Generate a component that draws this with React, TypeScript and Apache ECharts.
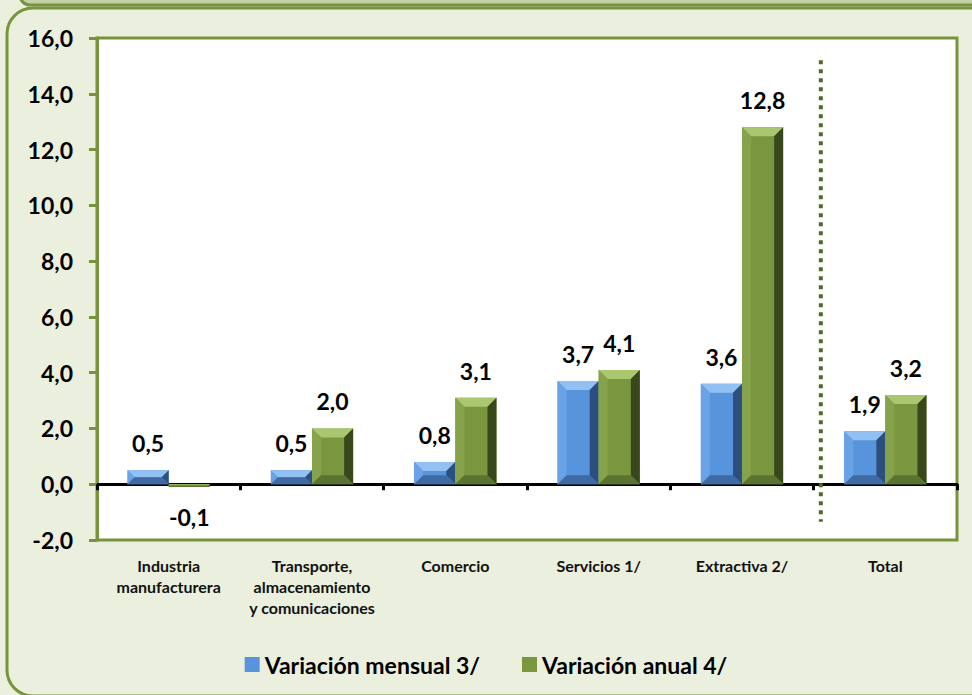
import React, { useEffect, useRef } from "react";
import * as echarts from "echarts";

const categories = [
  "Industria\nmanufacturera",
  "Transporte,\nalmacenamiento\ny comunicaciones",
  "Comercio",
  "Servicios 1/",
  "Extractiva 2/",
  "Total",
];
const mensual = [0.5, 0.5, 0.8, 3.7, 3.6, 1.9];
const anual = [-0.1, 2.0, 3.1, 4.1, 12.8, 3.2];
const seriesNames = ["Variación mensual 3/", "Variación anual 4/"];
const dividerX = [5.05, 5.05];
const dividerY = [15.2, -1.35];

const fmt = (v: number) => v.toFixed(1).replace(".", ",");

const palettes = [
  { base: "#5894dc", top: "#93c0f3", left: "#6aa2e6", right: "#2c4f7f", bottom: "#3f6aa3" },
  { base: "#7a973f", top: "#abc671", left: "#86a24a", right: "#38481b", bottom: "#5b7330" },
];

function makeRender(side: number, pal: any) {
  return (params: any, api: any) => {
    const idx = api.value(0);
    const val = api.value(1);
    const c = api.coord([idx, val]);
    const z = api.coord([idx, 0]);
    const band = api.size([1, 0])[0];
    const w = band * 0.287;
    const x0 = side < 0 ? c[0] - w : c[0];
    const x1 = x0 + w;
    const yT = Math.min(c[1], z[1]);
    const yB = Math.max(c[1], z[1]);
    const h = yB - yT;
    const b = Math.min(9, h / 2, w / 2);
    const poly = (pts: number[][], fill: string) => ({
      type: "polygon",
      shape: { points: pts },
      style: { fill },
    });
    return {
      type: "group",
      children: [
        { type: "rect", shape: { x: x0, y: yT, width: w, height: h }, style: { fill: pal.base } },
        poly([[x0, yT], [x1, yT], [x1 - b, yT + b], [x0 + b, yT + b]], pal.top),
        poly([[x0, yT], [x0 + b, yT + b], [x0 + b, yB - b], [x0, yB]], pal.left),
        poly([[x1, yT], [x1, yB], [x1 - b, yB - b], [x1 - b, yT + b]], pal.right),
        poly([[x0, yB], [x1, yB], [x1 - b, yB - b], [x0 + b, yB - b]], pal.bottom),
        {
          type: "text",
          style: {
            text: fmt(val),
            x: (x0 + x1) / 2,
            y: val >= 0 ? yT - 27 : yB + 30,
            align: "center",
            verticalAlign: "middle",
            fontSize: 23,
            fontWeight: "bold",
            fontFamily: "Lato",
            fill: "#000",
          },
          z2: 10,
        },
      ],
    };
  };
}

export default function App() {
  const ref = useRef<HTMLDivElement>(null);
  useEffect(() => {
    document.body.style.margin = "0";
    const chart = echarts.init(ref.current!, null, { renderer: "svg" });
    chart.setOption({
      animation: false,
      backgroundColor: "#ebefdd",
      graphic: [
        {
          type: "rect",
          z: -10,
          shape: { x: 20, y: -20, width: 1000, height: 25, r: 10 },
          style: { fill: "#c3d0a8", stroke: "#77933c", lineWidth: 3 },
          silent: true,
        },
        {
          type: "rect",
          z: -10,
          shape: { x: 7, y: 8, width: 1000, height: 688, r: 26 },
          style: { fill: "#ebefdd", stroke: "#77933c", lineWidth: 3 },
          silent: true,
        },
      ],
      grid: {
        left: 97,
        right: 15,
        top: 38,
        bottom: 155,
        show: true,
        backgroundColor: "#ffffff",
        borderColor: "#77933c",
        borderWidth: 3,
      },
      legend: {
        data: seriesNames,
        left: "center",
        top: 648,
        icon: "rect",
        itemWidth: 15,
        itemHeight: 15,
        itemGap: 42,
        textStyle: { fontSize: 23, fontWeight: "bold", fontFamily: "Lato", color: "#000" },
      },
      xAxis: [
        {
          type: "category",
          data: categories,
          axisLine: { onZero: true, lineStyle: { color: "#000", width: 3 } },
          axisTick: { show: true, length: 6, lineStyle: { color: "#000", width: 3 } },
          axisLabel: {
            margin: 15,
            fontSize: 16,
            fontWeight: "bold",
            fontFamily: "Lato",
            color: "#111",
            lineHeight: 21,
            interval: 0,
            verticalAlign: "top",
          },
        },
        { type: "value", min: 0, max: 6, show: false },
      ],
      yAxis: {
        type: "value",
        min: -2,
        max: 16,
        interval: 2,
        splitLine: { show: false },
        axisLine: { show: true, lineStyle: { color: "#77933c", width: 3 } },
        axisTick: { show: true, length: 8, lineStyle: { color: "#77933c", width: 3 } },
        axisLabel: {
          margin: 24,
          fontSize: 23,
          fontWeight: "bold",
          fontFamily: "Lato",
          color: "#000",
          formatter: (v: number) => fmt(v),
        },
      },
      series: [
        {
          name: seriesNames[0],
          type: "custom",
          xAxisIndex: 0,
          itemStyle: { color: palettes[0].base },
          encode: { x: 0, y: 1 },
          data: mensual.map((v, i) => [i, v]),
          renderItem: makeRender(-1, palettes[0]),
          z: 3,
        },
        {
          name: seriesNames[1],
          type: "custom",
          xAxisIndex: 0,
          itemStyle: { color: palettes[1].base },
          encode: { x: 0, y: 1 },
          data: anual.map((v, i) => [i, v]),
          renderItem: makeRender(1, palettes[1]),
          z: 3,
        },
        {
          name: "divider",
          type: "line",
          xAxisIndex: 1,
          symbol: "none",
          silent: true,
          lineStyle: { color: "#4f6b28", width: 4, type: [4, 5] },
          data: dividerX.map((x, i) => [x, dividerY[i]]),
          z: 4,
        },
      ],
    });
    return () => chart.dispose();
  }, []);
  return <div ref={ref} style={{ width: 972, height: 695 }} />;
}
